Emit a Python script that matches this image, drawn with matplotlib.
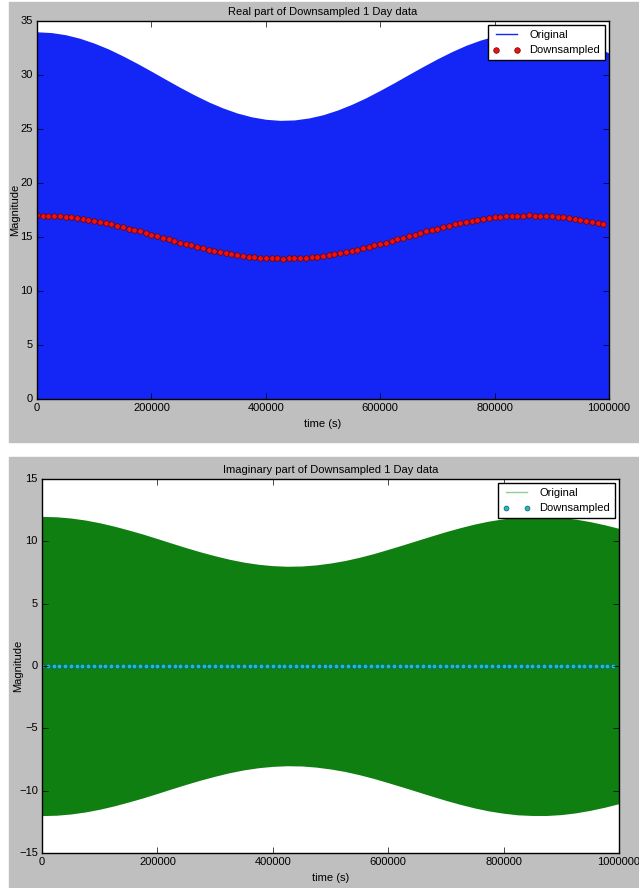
import matplotlib
matplotlib.use("Agg")
import matplotlib.pyplot as plt
from matplotlib.lines import Line2D
from matplotlib.patches import Rectangle

# envelope of the raw (original) signal, every 25000 s
env_time = list(range(0, 1000001, 25000))
real_env = [34.00, 33.93, 33.73, 33.40, 32.95, 32.41, 31.77, 31.08, 30.35, 29.60,
            28.86, 28.16, 27.51, 26.95, 26.48, 26.13, 25.90, 25.80, 25.84, 26.02,
            26.32, 26.75, 27.28, 27.89, 28.58, 29.30, 30.05, 30.79, 31.50, 32.16,
            32.75, 33.23, 33.61, 33.87, 33.99, 33.98, 33.83, 33.55, 33.15, 32.64,
            32.04]
imag_env = [12.00, 11.97, 11.87, 11.71, 11.49, 11.22, 10.91, 10.58, 10.22, 9.85,
            9.49, 9.15, 8.84, 8.56, 8.33, 8.16, 8.05, 8.00, 8.02, 8.11,
            8.26, 8.46, 8.72, 9.02, 9.36, 9.71, 10.07, 10.43, 10.78, 11.10,
            11.39, 11.63, 11.81, 11.94, 11.99, 11.99, 11.92, 11.78, 11.58, 11.33,
            11.04]

# downsampled points, one every 10000 s
down_time = list(range(0, 1000000, 10000))
down_real = [17.00, 16.99, 16.98, 16.95, 16.92, 16.87, 16.81, 16.74, 16.67, 16.58,
             16.49, 16.39, 16.28, 16.16, 16.04, 15.92, 15.78, 15.65, 15.51, 15.36,
             15.22, 15.07, 14.93, 14.78, 14.64, 14.49, 14.35, 14.22, 14.08, 13.96,
             13.84, 13.72, 13.61, 13.51, 13.42, 13.33, 13.26, 13.19, 13.13, 13.08,
             13.05, 13.02, 13.01, 13.00, 13.01, 13.02, 13.05, 13.08, 13.13, 13.19,
             13.26, 13.33, 13.42, 13.51, 13.61, 13.72, 13.84, 13.96, 14.08, 14.22,
             14.35, 14.49, 14.64, 14.78, 14.93, 15.07, 15.22, 15.36, 15.51, 15.65,
             15.78, 15.92, 16.04, 16.16, 16.28, 16.39, 16.49, 16.58, 16.67, 16.74,
             16.81, 16.87, 16.92, 16.95, 16.98, 16.99, 17.00, 16.99, 16.98, 16.95,
             16.92, 16.87, 16.81, 16.74, 16.67, 16.58, 16.49, 16.39, 16.28, 16.16]
down_imag = [0.0] * 100

x_ticks = [0, 200000, 400000, 600000, 800000, 1000000]

BLUE = "#1426f5"
GREEN = "#0f7f12"
GRAY = "#bfbfbf"
RED = "#ee1111"
CYAN = "#1cbcc4"

plt.style.use("classic")
plt.rcParams.update({
    "font.family": ["Liberation Sans", "DejaVu Sans"],
    "font.size": 8,
    "xtick.major.size": 4,
    "ytick.major.size": 4,
    "xtick.major.pad": 3,
    "ytick.major.pad": 3,
})

fig = plt.figure(figsize=(6.39, 8.88), dpi=100, facecolor="white")
W, H = 639.0, 888.0
# two grey panels, like two stacked notebook outputs
fig.patches.append(Rectangle((9 / W, 1 - 442 / H), 1, 440 / H,
                             transform=fig.transFigure, color=GRAY, zorder=-10))
fig.patches.append(Rectangle((9 / W, 0), 1, 1 - 457 / H,
                             transform=fig.transFigure, color=GRAY, zorder=-10))

ax1 = fig.add_axes([37 / W, 1 - 399 / H, 572 / W, 378 / H])
ax2 = fig.add_axes([42 / W, 1 - 853 / H, 577 / W, 374 / H])

# top: real part
ax1.fill_between(env_time, 0, real_env, color=BLUE, lw=0)
ax1.plot(down_time, down_real, "o", color=RED, mec="#660000", mew=0.5, ms=4)
ax1.set_xlim(0, 1000000)
ax1.set_ylim(0, 35)
ax1.set_xticks(x_ticks)
ax1.set_yticks([0, 5, 10, 15, 20, 25, 30, 35])
ax1.set_title("Real part of Downsampled 1 Day data", fontsize=8, pad=4)
ax1.set_xlabel("time (s)", fontsize=8, labelpad=4)
ax1.set_ylabel("Magnitude", fontsize=8)
ax1.yaxis.set_label_coords(-0.03, 0.5)
h1 = [Line2D([], [], color=BLUE, lw=1),
      Line2D([], [], ls="", marker="o", color=RED, mec="#660000", mew=0.5, ms=4)]
ax1.legend(h1, ["Original", "Downsampled"], loc="upper right", numpoints=2,
           fontsize=8, borderaxespad=0.4, fancybox=False, framealpha=1,
           edgecolor="black", handlelength=2.5)

# bottom: imaginary part
ax2.fill_between(env_time, [-v for v in imag_env], imag_env, color=GREEN, lw=0)
ax2.plot(down_time, down_imag, "o", color=CYAN, mec="#0a5a60", mew=0.5, ms=3.5)
ax2.set_xlim(0, 1000000)
ax2.set_ylim(-15, 15)
ax2.set_xticks(x_ticks)
ax2.set_yticks([-15, -10, -5, 0, 5, 10, 15])
ax2.set_title("Imaginary part of Downsampled 1 Day data", fontsize=8, pad=4)
ax2.set_xlabel("time (s)", fontsize=8, labelpad=4)
ax2.set_ylabel("Magnitude", fontsize=8)
ax2.yaxis.set_label_coords(-0.033, 0.5)
h2 = [Line2D([], [], color="#8fcf8f", lw=1),
      Line2D([], [], ls="", marker="o", color=CYAN, mec="#0a5a60", mew=0.5, ms=3.5)]
ax2.legend(h2, ["Original", "Downsampled"], loc="upper right", numpoints=2,
           fontsize=8, borderaxespad=0.4, fancybox=False, framealpha=1,
           edgecolor="black", handlelength=2.5)

for ax in (ax1, ax2):
    ax.tick_params(labelsize=8, colors="black")
    ax.ticklabel_format(axis="x", style="plain", useOffset=False)

fig.savefig("out.png", dpi=100, facecolor="white")
